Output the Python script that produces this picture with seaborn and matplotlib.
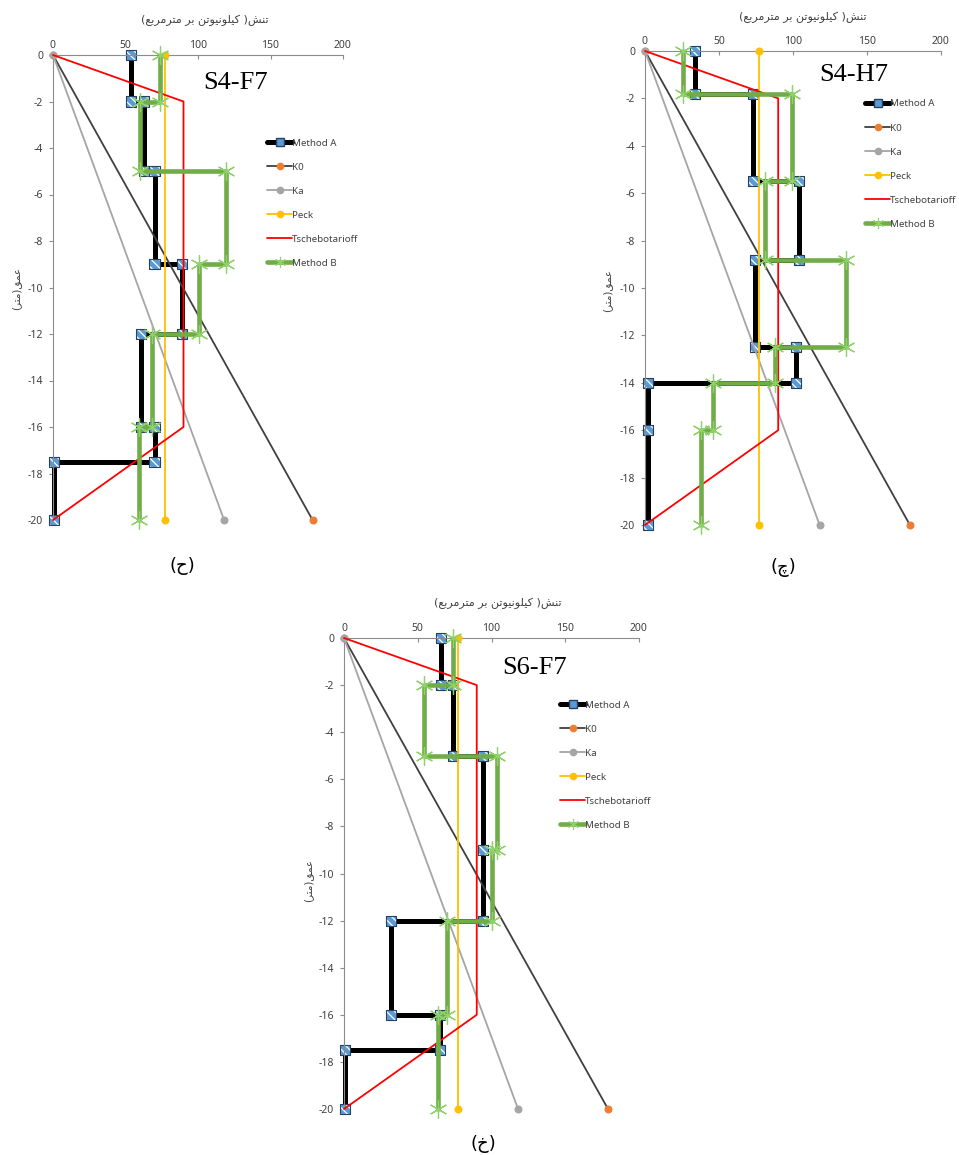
import matplotlib
matplotlib.use("Agg")
import matplotlib.pyplot as plt
from matplotlib.lines import Line2D
import seaborn as sns

# ---------------------------------------------------------------- data
depth_line = [0, -20]
k0_stress = [0, 179]
ka_stress = [0, 118]
peck_stress = [77, 77]
tsch_depth = [0, -2, -16, -20]
tsch_stress = [0, 90, 90, 0]

s4f7_a_depth = [0, -2, -2, -5, -5, -9, -9, -12, -12, -16, -16, -17.5, -17.5, -20]
s4f7_a_stress = [54, 54, 63, 63, 70, 70, 89, 89, 61, 61, 70, 70, 1, 1]
s4f7_b_depth = [0, -2, -2, -5, -5, -9, -9, -12, -12, -16, -16, -20]
s4f7_b_stress = [74, 74, 60, 60, 119, 119, 101, 101, 68, 68, 59, 59]

s4h7_a_depth = [0, -1.8, -1.8, -5.5, -5.5, -8.8, -8.8, -12.5, -12.5, -14, -14, -16, -20]
s4h7_a_stress = [34, 34, 73, 73, 104, 104, 74, 74, 102, 102, 2, 2, 2]
s4h7_b_depth = [0, -1.8, -1.8, -5.5, -5.5, -8.8, -8.8, -12.5, -12.5, -14, -14, -16, -16, -20]
s4h7_b_stress = [26, 26, 99, 99, 81, 81, 136, 136, 88, 88, 46, 46, 38, 38]

s6f7_a_depth = [0, -2, -2, -5, -5, -9, -12, -12, -16, -16, -17.5, -17.5, -20]
s6f7_a_stress = [66, 66, 74, 74, 94, 94, 94, 32, 32, 65, 65, 1, 1]
s6f7_b_depth = [0, -2, -2, -5, -5, -9, -9, -12, -12, -16, -16, -20]
s6f7_b_stress = [74, 74, 54, 54, 104, 104, 100, 100, 70, 70, 64, 64]

x_ticks = [0, 50, 100, 150, 200]
y_ticks = list(range(0, -21, -2))
series_names = ["Method A", "K0", "Ka", "Peck", "Tschebotarioff", "Method B"]

x_title = "تنش( کیلونیوتن بر مترمربع)"
y_title = "عمق(متر)"

# ---------------------------------------------------------------- arabic shaping
_FORMS = {
    "ت": (0xFE95, 0xFE96, 0xFE97, 0xFE98),
    "ن": (0xFEE5, 0xFEE6, 0xFEE7, 0xFEE8),
    "ش": (0xFEB5, 0xFEB6, 0xFEB7, 0xFEB8),
    "ک": (0xFB8E, 0xFB8F, 0xFB90, 0xFB91),
    "ی": (0xFBFC, 0xFBFD, 0xFBFE, 0xFBFF),
    "ل": (0xFEDD, 0xFEDE, 0xFEDF, 0xFEE0),
    "ب": (0xFE8F, 0xFE90, 0xFE91, 0xFE92),
    "م": (0xFEE1, 0xFEE2, 0xFEE3, 0xFEE4),
    "ع": (0xFEC9, 0xFECA, 0xFECB, 0xFECC),
    "ق": (0xFED5, 0xFED6, 0xFED7, 0xFED8),
    "چ": (0xFB7A, 0xFB7B, 0xFB7C, 0xFB7D),
    "ح": (0xFEA1, 0xFEA2, 0xFEA3, 0xFEA4),
    "خ": (0xFEA5, 0xFEA6, 0xFEA7, 0xFEA8),
    "و": (0xFEED, 0xFEEE, None, None),
    "ر": (0xFEAD, 0xFEAE, None, None),
}


def _dual(c):
    return c in _FORMS and _FORMS[c][2] is not None


def rtl(text):
    """Contextual shaping plus visual reordering for a pure Persian string."""
    out = []
    for i, c in enumerate(text):
        if c not in _FORMS:
            out.append(c)
            continue
        prev_c = text[i - 1] if i > 0 else ""
        next_c = text[i + 1] if i + 1 < len(text) else ""
        join_prev = _dual(prev_c)
        join_next = _dual(c) and next_c in _FORMS
        iso, fin, ini, med = _FORMS[c]
        if join_prev and join_next:
            code = med
        elif join_prev:
            code = fin
        elif join_next:
            code = ini
        else:
            code = iso
        out.append(chr(code))
    mirror = {"(": ")", ")": "("}
    return "".join(mirror.get(c, c) for c in reversed(out))


# ---------------------------------------------------------------- styling
sns.set_theme(style="white")
plt.rcParams["font.family"] = ["Noto Sans", "DejaVu Sans"]
plt.rcParams["hatch.linewidth"] = 0.9

W, H = 959, 1155
fig = plt.figure(figsize=(W / 100, H / 100), dpi=100)

AXIS_GREY = "#8c8c8c"
TEXT_GREY = "#404040"
C_K0 = "#404040"
C_K0_DOT = "#ed7d31"
C_KA = "#a5a5a5"
C_PECK = "#ffc000"
C_TSCH = "#ff0000"
C_B = "#70ad47"
C_B_STAR = "#8fd16a"
C_A_FILL = "#5b9bd5"
C_A_EDGE = "#27405e"


def fpos(x, y):
    return x / W, 1 - y / H


def draw_panel(px, a_depth, a_stress, b_depth, b_stress, name, tag, labels):
    x0, x200, y0, y20 = px
    ymin = -20.8
    ybot = y0 + (-ymin) * (y20 - y0) / 20
    ax = fig.add_axes([x0 / W, 1 - ybot / H, (x200 - x0) / W, (ybot - y0) / H])
    ax.set_facecolor("none")

    z = 2
    # Method A
    sns.lineplot(x=a_stress, y=a_depth, sort=False, estimator=None, ax=ax,
                 color="black", lw=3.6, zorder=z, clip_on=False)
    ax.scatter(a_stress, a_depth, marker="s", s=52, facecolor=C_A_FILL,
               edgecolor="white", hatch="\\\\\\\\", linewidth=0, zorder=z + 0.1, clip_on=False)
    ax.scatter(a_stress, a_depth, marker="s", s=52, facecolor="none",
               edgecolor=C_A_EDGE, linewidth=0.8, zorder=z + 0.2, clip_on=False)
    # K0, Ka, Peck
    sns.lineplot(x=k0_stress, y=depth_line, sort=False, estimator=None, ax=ax,
                 color=C_K0, lw=1.3, marker="o", markersize=5, markerfacecolor=C_K0_DOT,
                 markeredgecolor=C_K0_DOT, zorder=z + 1, clip_on=False)
    sns.lineplot(x=ka_stress, y=depth_line, sort=False, estimator=None, ax=ax,
                 color=C_KA, lw=1.3, marker="o", markersize=5, markerfacecolor=C_KA,
                 markeredgecolor=C_KA, zorder=z + 2, clip_on=False)
    sns.lineplot(x=peck_stress, y=depth_line, sort=False, estimator=None, ax=ax,
                 color=C_PECK, lw=1.3, marker="o", markersize=5, markerfacecolor=C_PECK,
                 markeredgecolor=C_PECK, zorder=z + 3, clip_on=False)
    # Tschebotarioff
    sns.lineplot(x=tsch_stress, y=tsch_depth, sort=False, estimator=None, ax=ax,
                 color=C_TSCH, lw=1.3, zorder=z + 4, clip_on=False)
    # Method B
    sns.lineplot(x=b_stress, y=b_depth, sort=False, estimator=None, ax=ax,
                 color=C_B, lw=3.3, zorder=z + 5, clip_on=False)
    ax.plot(b_stress, b_depth, ls="none", marker=(6, 2, 0), markersize=13,
            markeredgecolor=C_B_STAR, markeredgewidth=0.9, zorder=z + 6, clip_on=False)

    ax.set_xlim(0, 200)
    ax.set_ylim(ymin, 0)
    ax.set_xticks(x_ticks)
    ax.set_yticks(y_ticks)
    ax.set_yticklabels([str(v) for v in y_ticks])
    ax.xaxis.tick_top()
    ax.set_xlabel("")
    ax.set_ylabel("")
    for side in ("bottom", "right"):
        ax.spines[side].set_visible(False)
    for side in ("top", "left"):
        ax.spines[side].set_color(AXIS_GREY)
        ax.spines[side].set_linewidth(0.8)
    ax.spines["left"].set_bounds(-20, 0)
    ax.tick_params(axis="x", which="major", top=True, bottom=False, direction="in",
                   length=3, width=0.8, color=AXIS_GREY, labelsize=7.5,
                   labelcolor=TEXT_GREY, pad=3)
    ax.tick_params(axis="y", which="major", left=True, direction="out", length=3,
                   width=0.8, color=AXIS_GREY, labelsize=7.5, labelcolor=TEXT_GREY, pad=4)

    # panel name
    ax.text(labels["name"][0], labels["name"][1], name, family="Liberation Serif",
            fontsize=19, color="black", ha="center", va="center")

    # legend
    handles = [
        Line2D([], [], color="black", lw=3.6, marker="s", markersize=6,
               markerfacecolor=C_A_FILL, markeredgecolor=C_A_EDGE),
        Line2D([], [], color=C_K0, lw=1.3, marker="o", markersize=4.5,
               markerfacecolor=C_K0_DOT, markeredgecolor=C_K0_DOT),
        Line2D([], [], color=C_KA, lw=1.3, marker="o", markersize=4.5,
               markerfacecolor=C_KA, markeredgecolor=C_KA),
        Line2D([], [], color=C_PECK, lw=1.3, marker="o", markersize=4.5,
               markerfacecolor=C_PECK, markeredgecolor=C_PECK),
        Line2D([], [], color=C_TSCH, lw=1.3),
        Line2D([], [], color=C_B, lw=3.3, marker=(6, 2, 0), markersize=8,
               markeredgecolor=C_B_STAR, markeredgewidth=0.8),
    ]
    leg = fig.legend(handles, series_names, loc="upper left",
                     bbox_to_anchor=fpos(*labels["legend"]), frameon=False,
                     fontsize=7, handlelength=2.6, handletextpad=0.0,
                     labelspacing=1.55, borderpad=0, borderaxespad=0, numpoints=1)
    for t in leg.get_texts():
        t.set_color(TEXT_GREY)

    # axis titles and panel tag
    fx, fy = fpos(*labels["xtitle"])
    fig.text(fx, fy, rtl(x_title), family=["DejaVu Sans"], fontsize=8,
             color=TEXT_GREY, ha="center", va="center")
    fx, fy = fpos(*labels["ytitle"])
    fig.text(fx, fy, rtl(y_title), family=["DejaVu Sans"], fontsize=7.5,
             color=TEXT_GREY, ha="center", va="center", rotation=90)
    fx, fy = fpos(*labels["tag"])
    fig.text(fx, fy, rtl(tag), family=["DejaVu Sans"], fontsize=13,
             color="black", ha="center", va="center")
    return ax


draw_panel((53, 343, 55, 520), s4f7_a_depth, s4f7_a_stress, s4f7_b_depth, s4f7_b_stress,
           "S4-F7", "(ح)",
           {"name": (126, -1.2), "legend": (267, 138.5), "xtitle": (205, 20),
            "ytitle": (16, 288), "tag": (182, 566)})
draw_panel((645, 941, 51, 525), s4h7_a_depth, s4h7_a_stress, s4h7_b_depth, s4h7_b_stress,
           "S4-H7", "(چ)",
           {"name": (141, -1.0), "legend": (865, 99.5), "xtitle": (803, 17),
            "ytitle": (607, 290), "tag": (783, 567)})
draw_panel((344, 639, 638, 1109), s6f7_a_depth, s6f7_a_stress, s6f7_b_depth, s6f7_b_stress,
           "S6-F7", "(خ)",
           {"name": (129.5, -1.28), "legend": (560, 700.5), "xtitle": (498, 603),
            "ytitle": (308, 880), "tag": (483, 1144)})

fig.savefig("out.png", dpi=100)
